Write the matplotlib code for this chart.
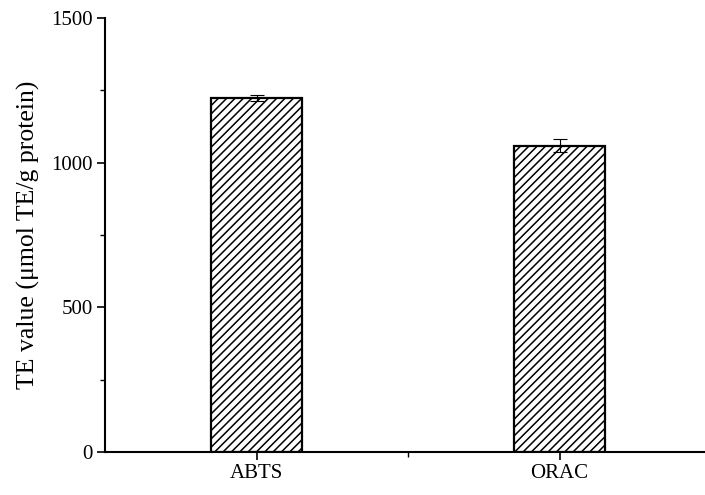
import numpy as np
import matplotlib.pyplot as plt
from matplotlib.ticker import MultipleLocator, FixedLocator

# data
categories = ['ABTS', 'ORAC']
te_values = [1224, 1059]
te_errors = [10, 22]

plt.rcParams['font.family'] = ['Liberation Serif', 'DejaVu Serif']
plt.rcParams['hatch.linewidth'] = 1.1

fig = plt.figure(figsize=(7.05, 4.95), dpi=100)
ax = fig.add_axes([105 / 705, 43 / 495, 606 / 705, 434 / 495])

x = np.arange(1, len(categories) + 1)
ax.bar(x, te_values, width=0.3, color='white', edgecolor='black',
       linewidth=1.6, hatch='////', zorder=2)
ax.errorbar(x, te_values, yerr=te_errors, fmt='none', ecolor='black',
            elinewidth=0.8, capsize=5, capthick=0.8, zorder=3)

ax.set_xlim(0.5, 2.5)
ax.set_ylim(0, 1500)
ax.set_xticks(x)
ax.set_xticklabels(categories)
ax.xaxis.set_minor_locator(FixedLocator([1.5]))
ax.yaxis.set_major_locator(MultipleLocator(500))
ax.yaxis.set_minor_locator(MultipleLocator(250))

ax.spines['top'].set_visible(False)
ax.spines['right'].set_visible(False)
for s in ['left', 'bottom']:
    ax.spines[s].set_linewidth(1.5)

ax.tick_params(which='major', direction='out', length=6, width=1.2,
               labelsize=15, pad=3)
ax.tick_params(which='minor', direction='out', length=3.5, width=1.0)

ax.set_ylabel('TE value (\u03bcmol TE/g protein)', fontsize=18.5, labelpad=8)

fig.savefig('out.png', dpi=100)
